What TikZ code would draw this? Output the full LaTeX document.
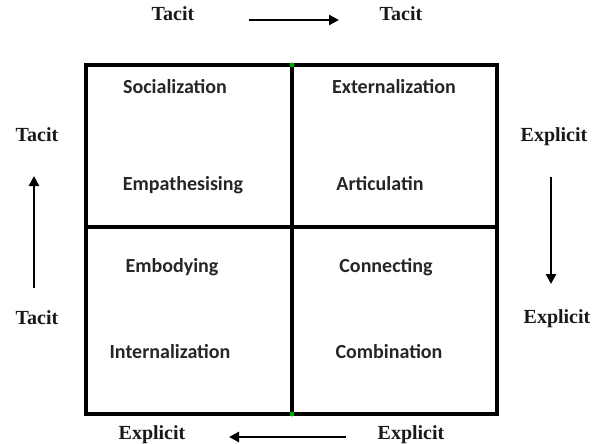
\documentclass[tikz,border=0pt]{standalone}
\usepackage{fontspec}
\setmainfont{Liberation Serif}
\newfontfamily\cellfont{Carlito}
\usetikzlibrary{arrows.meta}
\tikzset{
  side/.style={font=\fontsize{20}{22}\selectfont\bfseries, text=black!90, anchor=base, inner sep=0pt},
  cell/.style={font=\cellfont\fontsize{20}{22}\selectfont\bfseries, text=black!85, anchor=base, inner sep=0pt},
  frame/.style={line width=3.6pt},
  flow/.style={line width=2.8pt, -{Triangle[length=10pt,width=10pt]}},
  dot/.style={circle, fill=green!65!black, inner sep=0pt, minimum size=5pt}
}
\begin{document}
\begin{tikzpicture}[x=1pt,y=-1pt]
\useasboundingbox (0,0) rectangle (598,444);
% grid
\coordinate (tl) at (86,65);
\coordinate (br) at (497,414);
\coordinate (tm) at (292,65);
\coordinate (bm) at (292,414);
\coordinate (lm) at (86,227);
\coordinate (rm) at (497,227);
\draw[frame] (tl) rectangle (br);
\draw[frame] (tm) -- (bm);
\draw[frame] (lm) -- (rm);
\node[dot] (dt) at (tm) {};
\node[dot] (db) at (bm) {};
% cells
\node[cell] (soc) at (175,94) {Socialization};
\node[cell] (emp) at (183,190) {Empathesising};
\node[cell] (ext) at (394,94) {Externalization};
\node[cell] (art) at (380,190) {Articulatin};
\node[cell] (emb) at (172,272) {Embodying};
\node[cell] (con) at (386,272) {Connecting};
\node[cell] (int) at (170,358) {Internalization};
\node[cell] (com) at (389,358) {Combination};
% side labels
\node[side] (t1) at (173,21) {Tacit};
\node[side] (t2) at (401,21) {Tacit};
\node[side] (e1) at (152,439) {Explicit};
\node[side] (e2) at (411,439) {Explicit};
\node[side] (t3) at (37,142) {Tacit};
\node[side] (t4) at (37,324) {Tacit};
\node[side] (e3) at (554,142) {Explicit};
\node[side] (e4) at (557,323) {Explicit};
% arrows
\coordinate (a1s) at (249,20); \coordinate (a1e) at (339,20);
\draw[flow] (a1s) -- (a1e);
\coordinate (a2s) at (346,437); \coordinate (a2e) at (229,437);
\draw[flow] (a2s) -- (a2e);
\coordinate (a3s) at (34,288); \coordinate (a3e) at (34,176);
\draw[flow] (a3s) -- (a3e);
\coordinate (a4s) at (551,177); \coordinate (a4e) at (551,284);
\draw[flow] (a4s) -- (a4e);
\end{tikzpicture}
\end{document}
